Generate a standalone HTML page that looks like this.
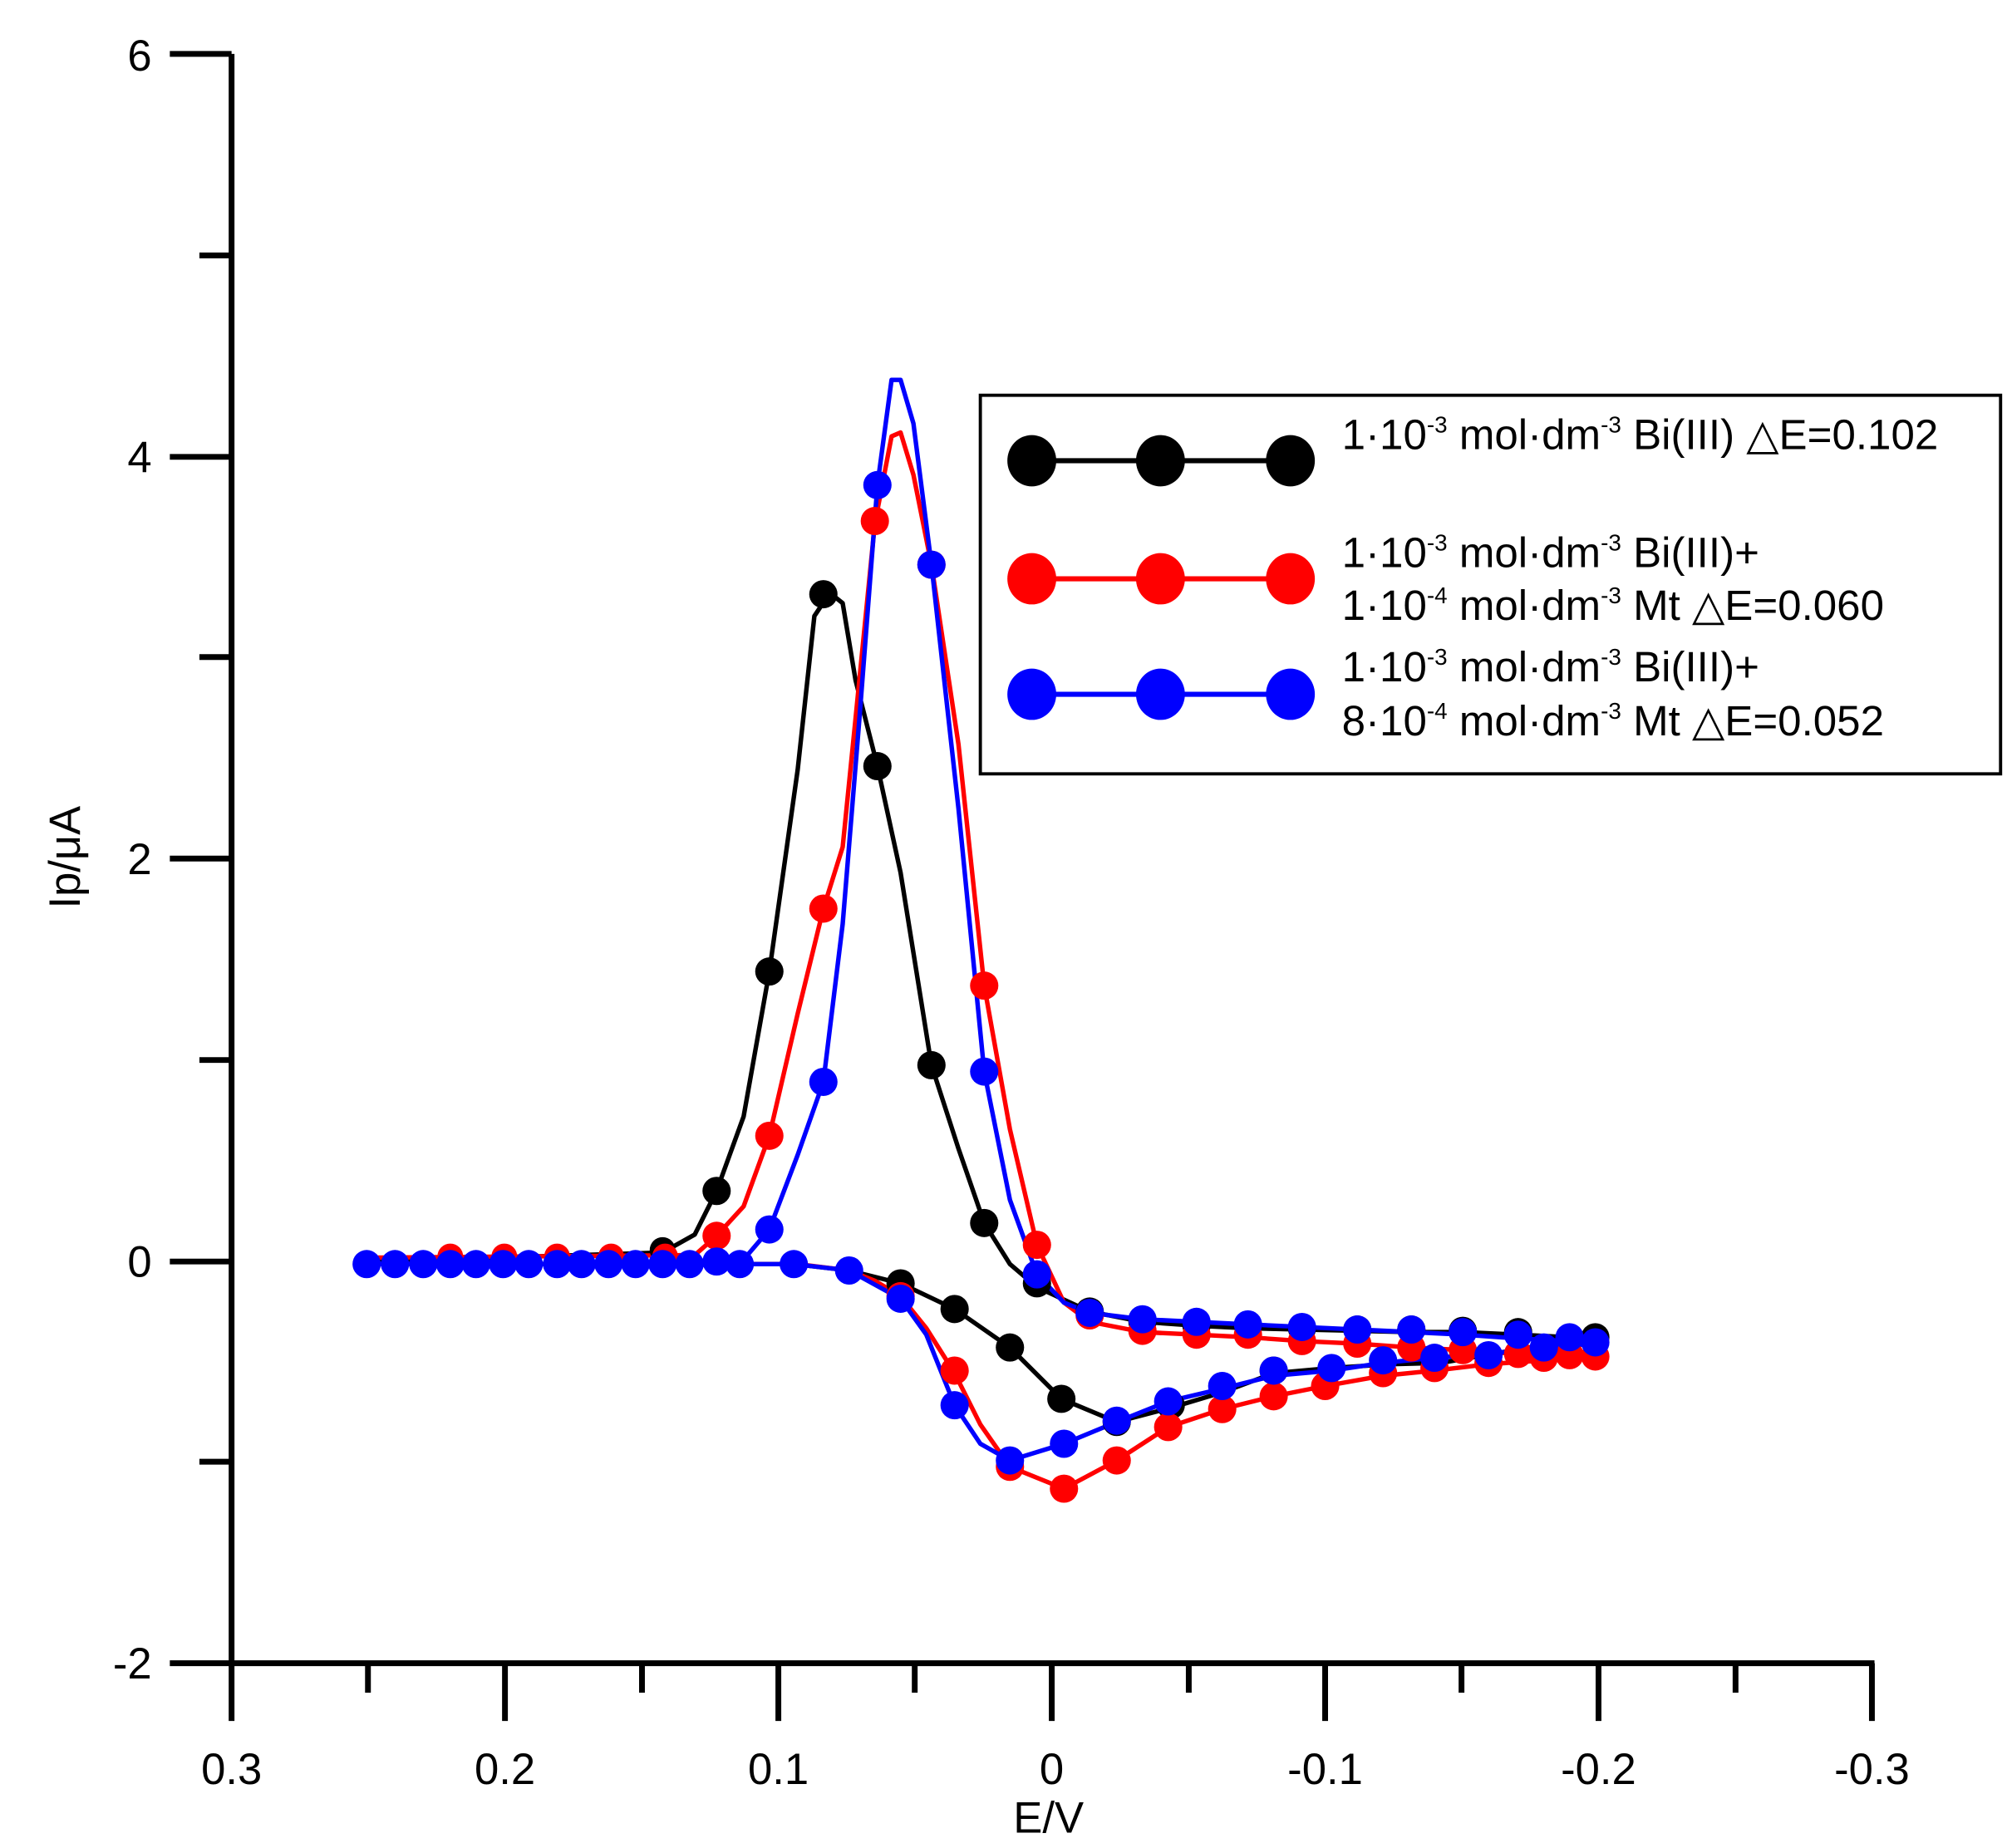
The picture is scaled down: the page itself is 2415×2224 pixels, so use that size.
<!DOCTYPE html>
<html><head><meta charset="utf-8"><style>
html,body{margin:0;padding:0;background:#fff;}
svg{display:block;}
text{font-family:"Liberation Sans",sans-serif;}
</style></head><body>
<svg width="2415" height="2224" viewBox="0 0 1560 1440" preserveAspectRatio="none" xmlns="http://www.w3.org/2000/svg">
<rect width="1560" height="1440" fill="#fff"/>
<g stroke="#000" stroke-width="4.5" fill="none">
<line x1="180" y1="42" x2="180" y2="1341"/>
<line x1="132" y1="1296" x2="1457" y2="1296"/>
<line x1="132" y1="42" x2="180" y2="42"/>
<line x1="132" y1="356" x2="180" y2="356"/>
<line x1="132" y1="669" x2="180" y2="669"/>
<line x1="132" y1="983" x2="180" y2="983"/>
<line x1="155" y1="199" x2="180" y2="199"/>
<line x1="155" y1="512" x2="180" y2="512"/>
<line x1="155" y1="826" x2="180" y2="826"/>
<line x1="155" y1="1139" x2="180" y2="1139"/>
<line x1="392.5" y1="1296" x2="392.5" y2="1341"/>
<line x1="605" y1="1296" x2="605" y2="1341"/>
<line x1="817.5" y1="1296" x2="817.5" y2="1341"/>
<line x1="1030" y1="1296" x2="1030" y2="1341"/>
<line x1="1242.5" y1="1296" x2="1242.5" y2="1341"/>
<line x1="1455" y1="1296" x2="1455" y2="1341"/>
<line x1="286" y1="1296" x2="286" y2="1319"/>
<line x1="499" y1="1296" x2="499" y2="1319"/>
<line x1="711" y1="1296" x2="711" y2="1319"/>
<line x1="924" y1="1296" x2="924" y2="1319"/>
<line x1="1136" y1="1296" x2="1136" y2="1319"/>
<line x1="1349" y1="1296" x2="1349" y2="1319"/>
</g>
<g font-size="34" fill="#000" text-anchor="end">
<text x="118" y="55">6</text>
<text x="118" y="368">4</text>
<text x="118" y="681">2</text>
<text x="118" y="995">0</text>
<text x="118" y="1308">-2</text>
</g>
<g font-size="34" fill="#000" text-anchor="middle">
<text x="180" y="1390">0.3</text>
<text x="392.5" y="1390">0.2</text>
<text x="605" y="1390">0.1</text>
<text x="817.5" y="1390">0</text>
<text x="1030" y="1390">-0.1</text>
<text x="1242.5" y="1390">-0.2</text>
<text x="1455" y="1390">-0.3</text>
<text x="815" y="1428">E/V</text>
</g>
<text x="0" y="0" font-size="34" text-anchor="middle" transform="translate(62,668) rotate(-90)">Ip/μA</text>

<g fill="none" stroke-width="3.5" stroke-linejoin="round">
<polyline stroke="#000" points="285,983 515,976 540,962 557,928 578,870 598,757 620,600 633,480 645,462 655,470 665,530 682,597 700,680 724,830 745,895 765,953 785,985 806,1003 847,1022 888,1030 930,1033 970,1035 1012,1036 1055,1037 1097,1038 1137,1038 1180,1040 1240,1043"/>
<polyline stroke="#000" points="1240,1043 1200,1048 1160,1055 1120,1062 1080,1063 1035,1066 990,1070 950,1085 910,1097 868,1108 825,1090 785,1050 742,1020 700,1000 660,990 617,985 575,985"/>
<polyline stroke="#f00" points="285,980 540,978 557,963 578,940 598,885 620,790 640,708 655,660 665,560 680,408 693,340 700,337 710,370 724,440 745,580 765,768 785,880 806,970 827,1015 847,1030 888,1038 930,1040 970,1042 1012,1045 1055,1047 1097,1050 1137,1052 1180,1055 1240,1057"/>
<polyline stroke="#f00" points="1240,1057 1200,1060 1157,1063 1115,1068 1075,1072 1030,1080 990,1088 950,1098 908,1112 868,1138 827,1160 785,1143 762,1110 742,1070 720,1035 700,1010 680,998 660,990 620,985 575,985"/>
<polyline stroke="#00f" points="285,985 575,985 598,958 620,900 640,843 655,720 668,560 682,378 693,296 700,296 710,330 724,440 745,630 765,835 785,935 806,993 827,1015 847,1023 888,1028 930,1030 970,1032 1012,1034 1055,1036 1097,1038 1137,1040 1180,1043 1240,1046"/>
<polyline stroke="#00f" points="1240,1047 1200,1050 1157,1055 1115,1058 1075,1062 1035,1068 990,1072 950,1082 908,1092 868,1108 827,1125 785,1138 762,1125 742,1095 720,1040 700,1012 660,990 617,985 575,985 285,985"/>
</g>

<g fill="#000">
<circle cx="515" cy="974" r="10"/><circle cx="557" cy="928" r="11"/><circle cx="598" cy="757" r="11"/><circle cx="640" cy="463" r="11"/><circle cx="682" cy="597" r="11"/><circle cx="724" cy="830" r="11"/><circle cx="765" cy="953" r="11"/><circle cx="806" cy="1000" r="11"/><circle cx="847" cy="1022" r="11"/><circle cx="888" cy="1030" r="11"/><circle cx="930" cy="1033" r="11"/><circle cx="970" cy="1033" r="11"/><circle cx="1012" cy="1035" r="11"/><circle cx="1055" cy="1036" r="11"/><circle cx="1097" cy="1036" r="11"/><circle cx="1137" cy="1037" r="11"/><circle cx="1180" cy="1038" r="11"/><circle cx="1240" cy="1042" r="11"/>
<circle cx="990" cy="1068" r="11"/><circle cx="910" cy="1095" r="11"/><circle cx="868" cy="1108" r="11"/><circle cx="825" cy="1090" r="11"/><circle cx="785" cy="1050" r="11"/><circle cx="742" cy="1020" r="11"/><circle cx="700" cy="1000" r="11"/>
</g>
<g fill="#f00">
<circle cx="350" cy="979" r="10"/><circle cx="392" cy="979" r="10"/><circle cx="433" cy="979" r="10"/><circle cx="475" cy="979" r="10"/><circle cx="517" cy="979" r="10"/>
<circle cx="557" cy="963" r="11"/><circle cx="598" cy="885" r="11"/><circle cx="640" cy="708" r="11"/><circle cx="680" cy="406" r="11"/><circle cx="724" cy="440" r="11"/><circle cx="765" cy="768" r="11"/><circle cx="806" cy="970" r="11"/><circle cx="847" cy="1025" r="11"/><circle cx="888" cy="1037" r="11"/><circle cx="930" cy="1040" r="11"/><circle cx="970" cy="1040" r="11"/><circle cx="1012" cy="1045" r="11"/><circle cx="1055" cy="1047" r="11"/><circle cx="1097" cy="1050" r="11"/><circle cx="1137" cy="1052" r="11"/><circle cx="1180" cy="1055" r="11"/><circle cx="1220" cy="1056" r="11"/><circle cx="1240" cy="1057" r="11"/>
<circle cx="1200" cy="1058" r="11"/><circle cx="1157" cy="1062" r="11"/><circle cx="1115" cy="1066" r="11"/><circle cx="1075" cy="1070" r="11"/><circle cx="1030" cy="1080" r="11"/><circle cx="990" cy="1088" r="11"/><circle cx="950" cy="1098" r="11"/><circle cx="908" cy="1112" r="11"/><circle cx="868" cy="1138" r="11"/><circle cx="827" cy="1160" r="11"/><circle cx="785" cy="1143" r="11"/><circle cx="742" cy="1068" r="11"/><circle cx="700" cy="1010" r="11"/>
</g>
<g fill="#00f">
<circle cx="285" cy="985" r="11"/><circle cx="307" cy="985" r="11"/><circle cx="329" cy="985" r="11"/><circle cx="350" cy="985" r="11"/><circle cx="370" cy="985" r="11"/><circle cx="391" cy="985" r="11"/><circle cx="411" cy="985" r="11"/><circle cx="433" cy="985" r="11"/><circle cx="452" cy="985" r="11"/><circle cx="473" cy="985" r="11"/><circle cx="494" cy="985" r="11"/><circle cx="515" cy="985" r="11"/><circle cx="536" cy="985" r="11"/><circle cx="557" cy="983" r="11"/><circle cx="575" cy="985" r="11"/><circle cx="617" cy="985" r="11"/><circle cx="660" cy="990" r="11"/>
<circle cx="598" cy="958" r="11"/><circle cx="640" cy="843" r="11"/><circle cx="682" cy="378" r="11"/><circle cx="724" cy="440" r="11"/><circle cx="765" cy="835" r="11"/><circle cx="806" cy="993" r="11"/><circle cx="847" cy="1023" r="11"/><circle cx="888" cy="1028" r="11"/><circle cx="930" cy="1030" r="11"/><circle cx="970" cy="1032" r="11"/><circle cx="1012" cy="1034" r="11"/><circle cx="1055" cy="1036" r="11"/><circle cx="1097" cy="1036" r="11"/><circle cx="1137" cy="1038" r="11"/><circle cx="1180" cy="1040" r="11"/><circle cx="1220" cy="1042" r="11"/><circle cx="1240" cy="1046" r="11"/>
<circle cx="1200" cy="1050" r="11"/><circle cx="1157" cy="1056" r="11"/><circle cx="1115" cy="1058" r="11"/><circle cx="1075" cy="1060" r="11"/><circle cx="1035" cy="1066" r="11"/><circle cx="990" cy="1068" r="11"/><circle cx="950" cy="1080" r="11"/><circle cx="908" cy="1092" r="11"/><circle cx="868" cy="1107" r="11"/><circle cx="827" cy="1125" r="11"/><circle cx="785" cy="1138" r="11"/><circle cx="742" cy="1095" r="11"/><circle cx="700" cy="1012" r="11"/>
</g>

<rect x="762" y="308" width="793" height="295" fill="#fff" stroke="#000" stroke-width="2.5"/>
<line x1="799" y1="359" x2="1000" y2="359" stroke="#000" stroke-width="4"/>
<line x1="799" y1="451" x2="1000" y2="451" stroke="#f00" stroke-width="4"/>
<line x1="799" y1="541" x2="1000" y2="541" stroke="#00f" stroke-width="4"/>
<g fill="#000"><ellipse cx="802" cy="359" rx="19" ry="20"/><ellipse cx="902" cy="359" rx="19" ry="20"/><ellipse cx="1003" cy="359" rx="19" ry="20"/></g>
<g fill="#f00"><ellipse cx="802" cy="451" rx="19" ry="20"/><ellipse cx="902" cy="451" rx="19" ry="20"/><ellipse cx="1003" cy="451" rx="19" ry="20"/></g>
<g fill="#00f"><ellipse cx="802" cy="541" rx="19" ry="20"/><ellipse cx="902" cy="541" rx="19" ry="20"/><ellipse cx="1003" cy="541" rx="19" ry="20"/></g>
<g font-size="33" fill="#000">
<text x="1043" y="350">1·10<tspan font-size="18" dy="-13">-3</tspan><tspan dy="13"> mol·dm</tspan><tspan font-size="18" dy="-13">-3</tspan><tspan dy="13"> Bi(III)  △E=0.102</tspan></text>
<text x="1043" y="442">1·10<tspan font-size="18" dy="-13">-3</tspan><tspan dy="13"> mol·dm</tspan><tspan font-size="18" dy="-13">-3</tspan><tspan dy="13"> Bi(III)+</tspan></text>
<text x="1043" y="483">1·10<tspan font-size="18" dy="-13">-4</tspan><tspan dy="13"> mol·dm</tspan><tspan font-size="18" dy="-13">-3</tspan><tspan dy="13"> Mt  △E=0.060</tspan></text>
<text x="1043" y="531">1·10<tspan font-size="18" dy="-13">-3</tspan><tspan dy="13"> mol·dm</tspan><tspan font-size="18" dy="-13">-3</tspan><tspan dy="13"> Bi(III)+</tspan></text>
<text x="1043" y="573">8·10<tspan font-size="18" dy="-13">-4</tspan><tspan dy="13"> mol·dm</tspan><tspan font-size="18" dy="-13">-3</tspan><tspan dy="13"> Mt  △E=0.052</tspan></text>
</g>
</svg>
</body></html>
